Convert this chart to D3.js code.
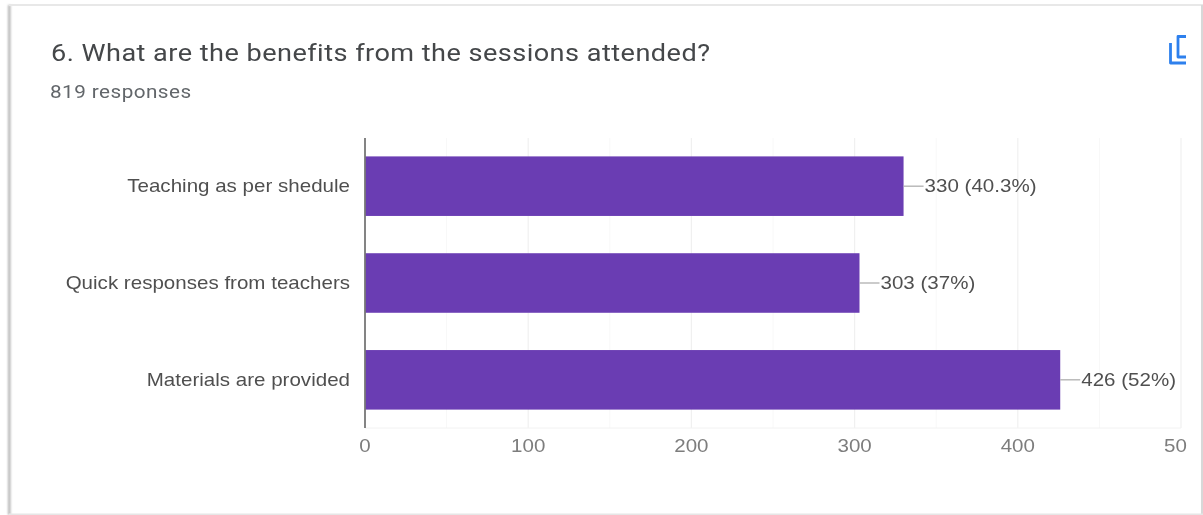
<!DOCTYPE html>
<html><head><meta charset="utf-8">
<script src="https://cdn.jsdelivr.net/npm/d3@7/dist/d3.min.js"></script>
<style>html,body{margin:0;padding:0;background:#fff;overflow:hidden}svg{display:block}</style>
</head><body><svg id="c" width="1203" height="515"></svg>
<script>
const categories=["Teaching as per shedule","Quick responses from teachers","Materials are provided"];
const counts=[330,303,426];
const percents=["40.3%","37%","52%"];
const majorTicks=[0,100,200,300,400,500];
const tickLabels=["0","100","200","300","400","50"];
const minorTicks=[50,150,250,350,450];
const title="6. What are the benefits from the sessions attended?";
const subtitle="819 responses";

const svg=d3.select("#c");
const defs=svg.append("defs");
const blur=defs.append("filter").attr("id","soft").attr("x","-200%").attr("y","-200%").attr("width","500%").attr("height","500%");
blur.append("feGaussianBlur").attr("stdDeviation",1);
const txt=defs.append("filter").attr("id","txt").attr("filterUnits","userSpaceOnUse").attr("x",0).attr("y",0).attr("width",1203).attr("height",515);
txt.append("feGaussianBlur").attr("stdDeviation",0.45);

// card frame
svg.append("rect").attr("width",1203).attr("height",515).attr("fill","#fff");
svg.append("rect").attr("x",8).attr("y",5).attr("width",2.5).attr("height",510).attr("fill","#b4b4b4").attr("filter","url(#soft)");
svg.append("rect").attr("x",9).attr("y",4).attr("width",1194).attr("height",2).attr("fill","#e8e8e8");
svg.append("rect").attr("x",1201).attr("y",5).attr("width",2).attr("height",510).attr("fill","#d8d8d8");
svg.append("rect").attr("x",9).attr("y",513.5).attr("width",1194).attr("height",1.5).attr("fill","#e6e6e6");

const x=d3.scaleLinear().domain([0,500]).range([365,1181]);
const y=d3.scaleBand().domain(categories).range([138,428]).paddingInner(0.385).paddingOuter(0.19);

// grid
svg.append("g").selectAll("line").data(minorTicks).join("line")
 .attr("x1",d=>x(d)).attr("x2",d=>x(d)).attr("y1",138).attr("y2",428).attr("stroke","#f8f8f8");
svg.append("g").selectAll("line").data(majorTicks.slice(1)).join("line")
 .attr("x1",d=>x(d)).attr("x2",d=>x(d)).attr("y1",138).attr("y2",428).attr("stroke","#f0f0f0").attr("stroke-width",1.2);
svg.append("line").attr("x1",365).attr("x2",1181).attr("y1",428).attr("y2",428).attr("stroke","#f2f2f2");

// bars
svg.append("g").selectAll("rect").data(counts).join("rect")
 .attr("x",x(0)).attr("y",(d,i)=>y(categories[i])).attr("width",d=>x(d)-x(0)).attr("height",y.bandwidth()).attr("fill","#6a3db3");

const g=svg.append("g").attr("filter","url(#txt)");
const fam="Roboto,sans-serif", arial="'Liberation Sans',Arial,sans-serif";
const place=(px,py,s)=>`translate(${px},${py}) scale(${s},1)`;

g.append("text").attr("transform",place(51,60.5,1.154)).attr("font-family",fam).attr("font-size",23.5).attr("letter-spacing",0.4).attr("fill","#44474a").text(title);
g.append("text").attr("transform",place(50,97.5,1.15)).attr("font-family",fam).attr("font-size",18).attr("letter-spacing",0.4).attr("fill","#62666a").text(subtitle);

// copy icon
const ic=svg.append("g").attr("fill","none").attr("stroke","#2f80ed").attr("stroke-width",2.8).attr("stroke-linejoin","round").attr("filter","url(#txt)");
ic.append("path").attr("d","M1170.5 43V63H1186");
ic.append("path").attr("d","M1186 36.5H1178V57H1186");

// leaders + value labels
svg.append("g").selectAll("line").data(counts).join("line")
 .attr("x1",d=>x(d)).attr("x2",d=>x(d)+20)
 .attr("y1",(d,i)=>y(categories[i])+y.bandwidth()/2).attr("y2",(d,i)=>y(categories[i])+y.bandwidth()/2)
 .attr("stroke","#a8a8a8").attr("stroke-width",1.2);
g.append("g").selectAll("text").data(counts).join("text")
 .attr("transform",(d,i)=>place(x(d)+21,y(categories[i])+y.bandwidth()/2+6.3,1.142))
 .attr("font-family",arial).attr("font-size",18).attr("fill","#505050")
 .text((d,i)=>`${d} (${percents[i]})`);

// category labels
g.append("g").selectAll("text").data(categories).join("text")
 .attr("transform",d=>place(350,y(d)+y.bandwidth()/2+5.8,1.142))
 .attr("text-anchor","end").attr("font-family",arial).attr("font-size",18).attr("fill","#505050").text(d=>d);

// y axis line
svg.append("line").attr("x1",365).attr("x2",365).attr("y1",138).attr("y2",428).attr("stroke","#777").attr("stroke-width",1.8);

// x tick labels
g.append("g").selectAll("text").data(majorTicks).join("text")
 .attr("transform",(d,i)=>place(i===5?x(d)-17:x(d),452.3,1.142))
 .attr("text-anchor",(d,i)=>i===5?"start":"middle")
 .attr("font-family",arial).attr("font-size",18).attr("fill","#7d7d7d").text((d,i)=>tickLabels[i]);
</script></body></html>
